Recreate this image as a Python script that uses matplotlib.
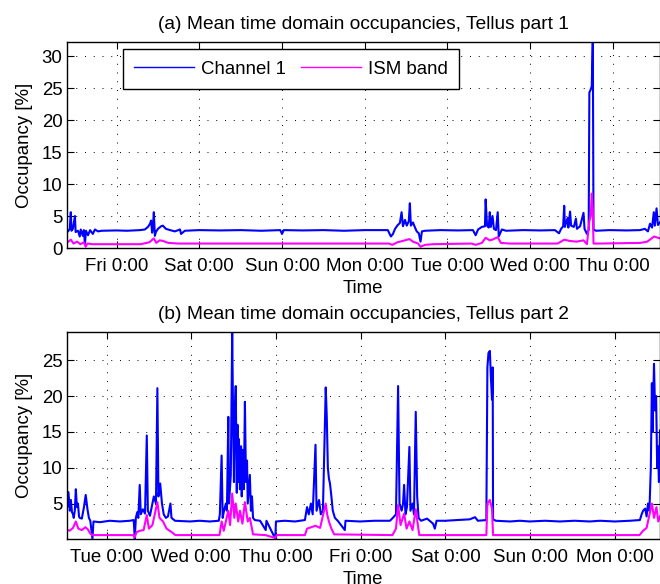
import matplotlib
matplotlib.use("Agg")
import matplotlib.pyplot as plt
import matplotlib.dates as mdates
import pandas as pd

# part 1: hours after Fri 0:00 (2010-01-08)
p1_ch_hours = [-14.5, -14.1, -13.6, -13.3, -13.1, -12.7, -12.1, -11.9, -11.2, -10.7, -10.4, -9.8, -9.5, -9.2,
               -8.9, -8.3, -7.7, -6.9, -6.3, -5.4, -4.3, 0, 3, 6.8, 8.2, 9.1, 9.7, 10.0, 10.3, 10.5, 10.8, 11.1,
               11.4, 12.0, 12.9, 13.4, 14.3, 15.5, 16.9, 18.4, 18.7, 19.8, 24, 30, 36, 42, 47.5, 48, 48.5, 54,
               60, 66, 72, 78.7, 79.6, 80.2, 80.8, 81.6, 82.2, 82.7, 83.1, 83.7, 84.2, 84.8, 85.1, 85.4, 86.0,
               86.6, 87.1, 87.7, 88.2, 88.6, 89.5, 94, 99, 103.4, 104.2, 104.9, 106.0, 106.9, 107.1, 107.5,
               108.0, 108.3, 108.6, 109.1, 109.5, 110.1, 110.6, 110.9, 111.8, 113.0, 118, 123, 127.2, 128.4,
               129.0, 129.6, 129.9, 130.1, 130.9, 131.1, 131.6, 131.9, 132.7, 133.3, 133.6, 134.5, 135.5,
               135.8, 136.5, 137.0, 137.2, 137.6, 137.9, 138.2, 138.4, 139.1, 143, 148, 151.9, 153.3, 154.2,
               154.8, 155.4, 155.9, 156.2, 156.7, 157.1, 157.7]
p1_ch_vals = [2.9, 2.6, 3.0, 5.6, 2.7, 3.0, 5.0, 2.5, 2.7, 1.8, 2.9, 1.9, 2.8, 0.6,
              2.7, 2.0, 2.8, 2.2, 2.9, 2.6, 2.7, 2.75, 2.7, 2.8, 2.9, 3.3, 3.8, 4.3, 2.4, 3.0, 5.6, 1.9,
              2.5, 3.0, 3.4, 3.5, 3.0, 2.8, 2.6, 2.9, 2.2, 2.7, 2.8, 2.75, 2.8, 2.7, 2.8, 2.2, 2.8, 2.75,
              2.8, 2.7, 2.8, 2.8, 1.8, 2.2, 3.0, 3.6, 3.9, 5.6, 3.4, 4.4, 3.5, 4.2, 7.0, 3.5, 4.0,
              3.2, 2.6, 2.3, 1.0, 2.6, 2.7, 2.8, 2.75, 2.8, 2.0, 2.9, 3.3, 3.4, 7.6, 3.5,
              3.2, 5.6, 3.3, 5.0, 3.0, 2.8, 5.6, 1.8, 2.9, 2.7, 2.8, 2.75, 2.8, 2.3,
              3.0, 3.4, 6.6, 3.3, 4.7, 3.2, 5.7, 3.5, 3.3, 4.6, 3.0, 3.4, 5.5,
              3.0, 2.2, 2.9, 24.3, 24.8, 25.3, 33.0, 2.9, 2.7, 2.8, 2.75, 2.8, 3.0, 2.6,
              3.8, 3.2, 5.6, 3.5, 6.2, 3.6, 4.0]

p1_ism_hours = [-14.5, -13.3, -12.5, -11.5, -10.5, -9.5, -9.0, -8.5, -7.0, -4, 7, 9.5, 10.8, 11.5, 12.5, 13.5,
                15, 18, 40, 79, 80, 81.5, 83, 85, 86, 87.5, 88.2, 89.5, 92, 103, 104.2, 106, 107.1, 108.3,
                109, 110.6, 111.5, 114, 128, 129.9, 131.6, 133.5, 135.5, 136.5, 137.2, 137.6, 137.9, 138.2,
                138.4, 140, 152, 154, 156, 157.7]
p1_ism_vals = [0.8, 1.3, 0.7, 1.0, 0.6, 0.9, 0.2, 0.7, 0.6, 0.6, 0.6, 0.9, 1.5, 0.8, 1.2, 1.1,
               0.8, 0.7, 0.7, 0.7, 0.5, 0.9, 1.1, 1.4, 1.0, 0.7, 0.2, 0.5, 0.6, 0.7, 0.5, 0.8, 1.6, 1.2,
               1.3, 1.7, 0.8, 0.7, 0.7, 1.3, 1.1, 1.0, 1.2, 0.6, 4.2, 5.0, 8.5, 6.0,
               0.7, 0.7, 0.8, 1.0, 1.8, 1.5]

# part 2: hours after Tue 0:00 (2010-01-19)
p2_ch_hours = [-11.3, -11.1, -10.8, -10.4, -10.1, -9.8, -9.5, -9.3, -9.0, -8.7, -8.4, -8.1, -7.8, -7.6, -7.0,
               -6.4, -5.9, -5.4, -5.0, -4.6, -4.0, -3.7, -1.9, 0.9, 3.8, 6.6, 7.7, 8.0, 8.3, 8.7, 9.0, 9.4,
               9.7, 10.3, 10.9, 11.4, 11.7, 12.3, 12.8, 13.4, 14.0, 14.4, 14.7, 15.2, 15.7, 16.2, 16.8, 17.4,
               18.1, 18.4, 19.4, 23.6, 26.4, 29.3, 31.8, 32.1, 32.6, 32.9, 33.2, 33.8, 34.1, 34.5, 34.7, 35.2,
               35.6, 35.9, 36.1, 36.3, 36.6, 36.9, 37.1, 37.3, 37.5, 37.8, 38.1, 38.3, 38.6, 38.9, 39.2, 39.5,
               39.8, 40.0, 40.6, 40.9, 41.2, 41.5, 42.0, 43.5, 45.1, 45.3, 47.8, 48.0, 50.5, 53.4, 56.2, 56.8,
               57.3, 57.9, 58.4, 59.2, 59.5, 60.2, 60.7, 61.3, 62.1, 62.4, 62.7, 63.0, 63.3, 63.7, 64.1, 64.7,
               65.5, 67.5, 67.7, 71.8, 76.0, 80.3, 81.1, 82.0, 82.6, 83.0, 83.6, 84.0, 84.3, 84.7, 85.1, 85.8,
               86.1, 86.7, 87.1, 87.6, 88.0, 88.4, 89.1, 90.8, 92.5, 93.0, 93.5, 95.9, 102.9, 104.4, 105.2,
               107.6, 107.9, 108.2, 108.6, 108.9, 109.2, 109.4, 109.5, 110.3, 114.3, 117.1, 119.9, 124.2,
               128.4, 132.6, 136.9, 139.8, 144.0, 148.3, 151.1, 151.6, 152.0, 152.6, 153.0, 153.4, 153.8,
               154.2, 154.5, 154.7, 155.1, 155.4, 155.7, 156.0, 156.2, 156.5, 156.8]
p2_ch_vals = [7.6, 4.5, 6.6, 4.0, 5.5, 3.8, 3.5, 3.0, 4.0, 7.0, 4.5, 5.0, 3.2, 3.0, 2.9,
              4.5, 6.2, 4.2, 3.0, 2.6, 0.1, 2.5, 2.4, 2.6, 2.5, 2.6, 2.7, 0.1, 3.0, 3.8, 3.0, 7.6,
              3.5, 4.2, 3.6, 14.5, 4.0, 3.3, 4.5, 6.0, 5.0, 21.1, 6.0, 7.8, 5.0, 3.5, 3.0, 3.2,
              5.0, 3.0, 2.6, 2.5, 2.6, 2.5, 2.6, 3.5, 11.7, 3.0, 3.8, 5.0, 4.0, 17.1, 5.0, 9.0,
              28.9, 15.0, 8.0, 17.0, 21.4, 6.5, 16.0, 8.0, 14.0, 7.0, 13.0, 6.0, 12.5, 7.0, 19.2, 8.0,
              11.0, 5.0, 9.0, 4.0, 6.0, 3.0, 2.7, 2.6, 1.3, 2.6, 0.1, 2.5, 2.6, 2.5, 2.7, 4.5,
              3.5, 5.0, 3.5, 13.2, 4.0, 5.5, 3.5, 4.0, 21.2, 17.0, 10.0, 8.5, 7.8, 6.0, 4.0, 3.0,
              2.6, 1.3, 2.6, 2.5, 2.6, 2.6, 3.0, 3.5, 21.4, 5.0, 4.0, 5.0, 7.6, 3.5, 4.5, 12.9,
              4.0, 5.0, 3.5, 17.8, 6.0, 3.0, 2.6, 2.9, 2.2, 1.5, 2.6, 2.6, 2.8, 3.1, 2.6,
              2.7, 24.0, 26.0, 26.3, 22.5, 19.5, 24.0, 2.8, 2.6, 2.5, 2.6, 2.5, 2.6,
              2.5, 2.6, 2.5, 2.6, 2.5, 2.6, 2.7, 3.5, 4.0, 4.3, 3.2, 5.0, 4.0,
              10.0, 21.8, 15.0, 24.5, 18.0, 20.0, 10.0, 13.0, 8.0, 15.2]

p2_ism_hours = [-11.3, -10.5, -9.5, -8.7, -8.0, -7.0, -6.0, -5.3, -4.6, -4.0, 0, 7.5, 8.0, 8.5, 9.4, 10.5,
                11.4, 12.0, 13, 14.4, 15.0, 16.0, 17.0, 18.5, 19.5, 32.0, 32.6, 33.2, 34.5, 35.0, 35.6, 36.2,
                36.6, 37.3, 37.8, 38.5, 39.2, 40.0, 40.6, 41.2, 41.5, 45, 47.8, 48.2, 56.2, 56.8, 58, 59.2,
                60.5, 62.1, 62.5, 63.0, 63.7, 64.5, 81, 82.0, 82.6, 83.3, 84.3, 85.0, 85.8, 86.7, 87.6, 88.2,
                88.6, 107.6, 107.9, 108.6, 109.2, 109.5, 151, 152, 153, 154.5, 155.1, 155.8, 156.3, 156.8]
p2_ism_vals = [1.4, 1.2, 1.6, 2.5, 1.5, 1.3, 1.7, 1.4, 0.8, 0.6, 0.6, 0.6, 0.3, 1.0, 1.2, 1.3,
               3.4, 1.5, 2.0, 5.2, 3.0, 2.5, 1.5, 1.0, 0.6, 0.6, 2.5, 1.2, 4.0, 2.0, 6.4, 3.0,
               5.0, 2.5, 4.0, 2.2, 5.2, 2.5, 3.0, 1.5, 0.7, 0.6, 0.2, 0.6, 0.6, 1.5, 1.7, 1.9,
               1.6, 5.0, 3.5, 2.5, 1.5, 0.7, 0.6, 1.5, 4.8, 2.0, 3.6, 1.5, 2.5, 1.3, 4.2, 2.0,
               0.6, 0.6, 5.0, 5.5, 4.3, 0.6, 0.6, 1.2, 1.6, 5.0, 3.0, 4.5, 2.5, 3.2]

p1_start = pd.Timestamp("2010-01-08")
p2_start = pd.Timestamp("2010-01-19")

plt.rcParams['font.family'] = ['Liberation Sans', 'DejaVu Sans']
plt.rcParams['font.size'] = 13.4

fig = plt.figure(figsize=(6.6, 5.84), dpi=100)
ax1 = fig.add_axes([0.101, 0.5753, 0.899, 0.3527])
ax2 = fig.add_axes([0.101, 0.077, 0.899, 0.354])


def to_time(start, hours):
    return start + pd.to_timedelta(hours, unit="h")


def style(ax, start, hours_lim):
    ax.set_xlim(to_time(start, hours_lim[0]), to_time(start, hours_lim[1]))
    ax.xaxis.set_major_locator(mdates.DayLocator())
    ax.xaxis.set_major_formatter(mdates.DateFormatter('%a %-H:%M'))
    ax.tick_params(direction='in', length=5, width=0.8, top=True, right=True, pad=7)
    ax.tick_params(axis='y', pad=3)
    ax.grid(True, color='black', linestyle=(0, (1, 8)), linewidth=0.7)
    for s in ax.spines.values():
        s.set_linewidth(1.0)
    ax.set_xlabel("Time", labelpad=4)
    ax.set_ylabel("Occupancy [%]", labelpad=6)


ax1.plot(to_time(p1_start, p1_ch_hours), p1_ch_vals, color=(0, 0, 1), lw=1.5, label="Channel 1")
ax1.plot(to_time(p1_start, p1_ism_hours), p1_ism_vals, color=(1, 0, 1), lw=1.5, label="ISM band")
style(ax1, p1_start, (-14.5, 157.7))
ax1.set_ylim(0, 32.2)
ax1.set_yticks([0, 5, 10, 15, 20, 25, 30])
ax1.set_title("(a) Mean time domain occupancies, Tellus part 1", fontsize=13.8, pad=9.5)
leg = ax1.legend(ncol=2, loc='upper left', bbox_to_anchor=(0.0954, 0.9646), borderaxespad=0,
                 fancybox=False, edgecolor='black', framealpha=1, handlelength=3.2,
                 handletextpad=0.4, columnspacing=0.8, borderpad=0.6)
leg.get_frame().set_linewidth(1.0)
for line in leg.get_lines():
    line.set_linewidth(1.0)

ax2.plot(to_time(p2_start, p2_ch_hours), p2_ch_vals, color=(0, 0, 1), lw=1.5)
ax2.plot(to_time(p2_start, p2_ism_hours), p2_ism_vals, color=(1, 0, 1), lw=1.5)
style(ax2, p2_start, (-11.3, 156.8))
ax2.set_ylim(0.05, 28.9)
ax2.set_yticks([5, 10, 15, 20, 25])
ax2.set_title("(b) Mean time domain occupancies, Tellus part 2", fontsize=13.8, pad=9.5)

fig.savefig("out.png", dpi=100)
